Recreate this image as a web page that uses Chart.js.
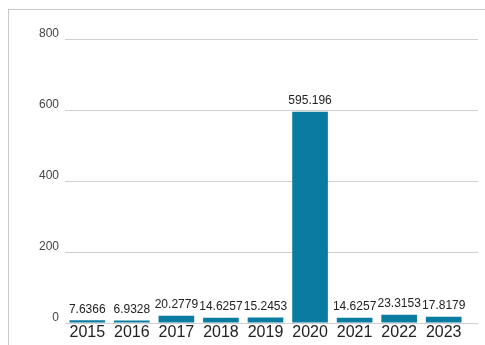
<!DOCTYPE html>
<html>
<head>
<meta charset="utf-8">
<script src="https://cdn.jsdelivr.net/npm/chart.js@4.4.1/dist/chart.umd.min.js"></script>
<style>
  html, body { margin: 0; padding: 0; background: #fff; overflow: hidden; }
  #frame { position: absolute; left: 8px; top: 9px; width: 600px; height: 600px; border: 1px solid #c8c8c8; }
  #wrap { position: absolute; left: 0; top: 0; width: 485px; height: 345px; }
</style>
</head>
<body>
<div id="frame"></div>
<div id="wrap"><canvas id="barChart"></canvas></div>
<script>
// chart data
var years = ['2015', '2016', '2017', '2018', '2019', '2020', '2021', '2022', '2023'];
var values = [7.6366, 6.9328, 20.2779, 14.6257, 15.2453, 595.196, 14.6257, 23.3153, 17.8179];
var yTicks = [0, 200, 400, 600, 800];

var fontFamily = 'Arial, "Liberation Sans", sans-serif';
var gridColor = '#d0d0d0';

// gridlines run a bit past the last category
var gridExtend = {
    id: 'gridExtend',
    beforeDatasetsDraw: function (chart) {
        var ctx = chart.ctx;
        var y = chart.scales.y;
        var area = chart.chartArea;
        ctx.save();
        ctx.strokeStyle = gridColor;
        ctx.lineWidth = 1;
        yTicks.forEach(function (v) {
            var py = Math.round(y.getPixelForValue(v)) + 0.5;
            ctx.beginPath();
            ctx.moveTo(area.right, py);
            ctx.lineTo(area.right + 12, py);
            ctx.stroke();
        });
        ctx.restore();
    }
};

// draws the value above each bar
var valueLabels = {
    id: 'valueLabels',
    afterDatasetsDraw: function (chart) {
        var ctx = chart.ctx;
        var meta = chart.getDatasetMeta(0);
        ctx.save();
        ctx.font = '12px ' + fontFamily;
        ctx.fillStyle = '#222';
        ctx.textAlign = 'center';
        ctx.textBaseline = 'bottom';
        meta.data.forEach(function (bar, i) {
            ctx.fillText(String(values[i]), bar.x, bar.y - 5);
        });
        ctx.restore();
    }
};

document.addEventListener("DOMContentLoaded", function () {
    var ctx = document.getElementById('barChart').getContext('2d');
    new Chart(ctx, {
        type: 'bar',
        data: {
            labels: years,
            datasets: [{
                data: values,
                backgroundColor: '#0b7ca1',
                barPercentage: 0.8,
                categoryPercentage: 1
            }]
        },
        options: {
            responsive: true,
            maintainAspectRatio: false,
            animation: false,
            layout: { padding: { top: 39, right: 19, left: 0, bottom: 0 } },
            plugins: {
                legend: { display: false },
                tooltip: { enabled: false }
            },
            scales: {
                x: {
                    grid: { display: false },
                    border: { display: false },
                    ticks: {
                        color: '#222',
                        font: { family: fontFamily, size: 16 },
                        padding: -8,
                        maxRotation: 0
                    },
                    afterFit: function (scale) { scale.height = 22; }
                },
                y: {
                    min: 0,
                    max: 800,
                    afterBuildTicks: function (scale) {
                        scale.ticks = yTicks.map(function (v) { return { value: v }; });
                    },
                    grid: { color: gridColor, drawTicks: false },
                    border: { display: false },
                    ticks: {
                        color: '#444',
                        font: { family: fontFamily, size: 12 },
                        padding: 6,
                        labelOffset: -5
                    },
                    afterFit: function (scale) { scale.width = 65; }
                }
            }
        },
        plugins: [gridExtend, valueLabels]
    });
});
</script>
</body>
</html>
